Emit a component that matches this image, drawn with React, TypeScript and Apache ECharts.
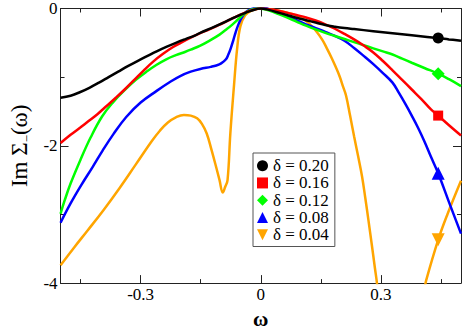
import React, { useEffect, useRef } from "react";
import * as echarts from "echarts";

const seriesNames = ["δ = 0.20", "δ = 0.16", "δ = 0.12", "δ = 0.08", "δ = 0.04"];
const seriesColors = ["#000000", "#ff0000", "#00ff00", "#0000ff", "#ffa500"];
const seriesIcons = ["circle", "rect", "diamond", "triangle", "path://M0,0L10,0L5,10Z"];
const markerSizes = [11, 10, 13, 13, 13];

const d020: number[][] = [
  [-0.5, -1.3], [-0.475, -1.27], [-0.452, -1.22], [-0.428, -1.155], [-0.404, -1.08],
  [-0.38, -1.0], [-0.356, -0.92], [-0.332, -0.84], [-0.308, -0.765], [-0.284, -0.695],
  [-0.26, -0.625], [-0.236, -0.56], [-0.212, -0.5], [-0.188, -0.445], [-0.165, -0.395],
  [-0.15, -0.35], [-0.125, -0.29], [-0.1, -0.225], [-0.075, -0.155], [-0.05, -0.09],
  [-0.025, -0.035], [0, 0], [0.02, -0.02], [0.041, -0.055], [0.065, -0.095],
  [0.089, -0.135], [0.113, -0.17], [0.137, -0.205], [0.161, -0.24], [0.185, -0.265],
  [0.209, -0.285], [0.233, -0.3], [0.281, -0.33], [0.329, -0.36], [0.377, -0.39],
  [0.41, -0.41], [0.443, -0.43], [0.47, -0.45], [0.5, -0.47],
];

const d016: number[][] = [
  [-0.5, -1.96], [-0.475, -1.84], [-0.45, -1.73], [-0.43, -1.64], [-0.408, -1.54],
  [-0.385, -1.42], [-0.362, -1.3], [-0.34, -1.18], [-0.316, -1.04], [-0.292, -0.9],
  [-0.268, -0.77], [-0.244, -0.66], [-0.22, -0.565], [-0.2, -0.5], [-0.175, -0.425],
  [-0.151, -0.36], [-0.127, -0.3], [-0.103, -0.235], [-0.079, -0.17], [-0.059, -0.11],
  [-0.039, -0.06], [-0.02, -0.02], [0, 0], [0.02, -0.01], [0.041, -0.03],
  [0.065, -0.06], [0.089, -0.095], [0.113, -0.13], [0.137, -0.175], [0.161, -0.23],
  [0.185, -0.295], [0.209, -0.37], [0.233, -0.45], [0.257, -0.54], [0.281, -0.64],
  [0.305, -0.765], [0.329, -0.9], [0.353, -1.04], [0.377, -1.18], [0.401, -1.32],
  [0.425, -1.47], [0.443, -1.56], [0.47, -1.7], [0.5, -1.85],
];

const d012: number[][] = [
  [-0.5, -2.99], [-0.49, -2.8], [-0.475, -2.55], [-0.45, -2.2], [-0.425, -1.88],
  [-0.396, -1.57], [-0.368, -1.36], [-0.34, -1.19], [-0.312, -1.04], [-0.284, -0.915],
  [-0.26, -0.82], [-0.236, -0.74], [-0.212, -0.68], [-0.188, -0.63], [-0.175, -0.6],
  [-0.151, -0.54], [-0.127, -0.465], [-0.103, -0.38], [-0.087, -0.31], [-0.071, -0.235],
  [-0.057, -0.16], [-0.043, -0.085], [-0.027, -0.025], [-0.01, 0], [0.01, -0.01],
  [0.041, -0.075], [0.065, -0.13], [0.089, -0.19], [0.113, -0.25], [0.137, -0.305],
  [0.161, -0.355], [0.185, -0.4], [0.209, -0.445], [0.233, -0.49], [0.257, -0.535],
  [0.281, -0.58], [0.305, -0.625], [0.329, -0.67], [0.353, -0.73], [0.377, -0.79],
  [0.41, -0.87], [0.443, -0.95], [0.47, -1.03], [0.5, -1.13],
];

const d008: number[][] = [
  [-0.5, -3.12], [-0.475, -2.84], [-0.448, -2.57], [-0.42, -2.31], [-0.395, -2.07],
  [-0.368, -1.83], [-0.336, -1.58], [-0.3, -1.37], [-0.26, -1.2], [-0.224, -1.06],
  [-0.2, -0.98], [-0.175, -0.92], [-0.151, -0.88], [-0.125, -0.85], [-0.111, -0.83],
  [-0.099, -0.8], [-0.087, -0.74], [-0.081, -0.67], [-0.075, -0.58], [-0.069, -0.47],
  [-0.063, -0.35], [-0.057, -0.25], [-0.051, -0.17], [-0.043, -0.09], [-0.035, -0.04],
  [-0.02, 0], [-0.007, 0.015], [0.01, 0.01], [0.025, -0.02], [0.041, -0.06],
  [0.065, -0.11], [0.089, -0.17], [0.113, -0.23], [0.137, -0.285], [0.161, -0.34],
  [0.185, -0.4], [0.209, -0.47], [0.233, -0.575], [0.257, -0.69], [0.281, -0.81],
  [0.305, -0.94], [0.329, -1.08], [0.345, -1.23], [0.361, -1.39], [0.377, -1.56],
  [0.393, -1.74], [0.409, -1.94], [0.425, -2.16], [0.443, -2.4], [0.47, -2.82],
  [0.5, -3.28],
];

const d004: number[][] = [
  [-0.5, -3.74], [-0.466, -3.48], [-0.432, -3.23], [-0.392, -2.93], [-0.352, -2.61],
  [-0.312, -2.27], [-0.272, -1.93], [-0.252, -1.78], [-0.232, -1.66], [-0.212, -1.585],
  [-0.192, -1.55], [-0.175, -1.56], [-0.159, -1.6], [-0.147, -1.68], [-0.135, -1.82],
  [-0.123, -2.06], [-0.111, -2.32], [-0.103, -2.5], [-0.095, -2.68], [-0.089, -2.6],
  [-0.083, -2.5], [-0.076, -1.82], [-0.067, -1.13], [-0.059, -0.58], [-0.051, -0.26],
  [-0.039, -0.1], [-0.023, -0.03], [0, 0], [0.02, -0.01], [0.041, -0.03],
  [0.065, -0.06], [0.089, -0.1], [0.105, -0.15], [0.121, -0.22], [0.137, -0.32],
  [0.153, -0.45], [0.165, -0.58], [0.177, -0.72], [0.187, -0.85], [0.197, -0.99],
  [0.205, -1.13], [0.213, -1.27], [0.223, -1.56], [0.233, -1.86], [0.243, -2.15],
  [0.253, -2.45], [0.261, -2.76], [0.269, -3.09], [0.277, -3.43], [0.285, -3.78],
  [0.291, -4.05], [0.297, -4.6], [0.403, -4.6], [0.41, -4.06], [0.413, -3.96],
  [0.443, -3.37], [0.466, -3.0], [0.5, -2.51],
];

const seriesData = [d020, d016, d012, d008, d004];
const markerX = 0.443;
const markerY = [-0.43, -1.56, -0.95, -2.4, -3.37];

const xMajorTicks = [-0.3, 0, 0.3];
const xMinorTicks = [-0.45, -0.15, 0.15, 0.45];
const yMajorTicks = [-4, -2, 0];
const yMinorTicks = [-3, -1];

const FONT = "Liberation Serif";
const AXIS_COLOR = "#222";

function xAxisDef(position: string, ticks: number[], len: number, labels: boolean, line: boolean, extra: any = {}) {
  return {
    type: "value",
    min: -0.5,
    max: 0.5,
    position,
    axisLine: { show: line, onZero: false, lineStyle: { color: AXIS_COLOR, width: 1 } },
    axisTick: { show: true, inside: true, length: len, customValues: ticks, lineStyle: { color: AXIS_COLOR, width: 1 } },
    axisLabel: labels
      ? { show: true, customValues: ticks, fontFamily: FONT, fontSize: 17, color: "#000", margin: 3, formatter: (v: number) => (v === 0 ? "0" : String(v)) }
      : { show: false },
    splitLine: { show: false },
    ...extra,
  };
}

function yAxisDef(position: string, ticks: number[], len: number, labels: boolean, line: boolean, extra: any = {}) {
  return {
    type: "value",
    min: -4,
    max: 0,
    position,
    axisLine: { show: line, onZero: false, lineStyle: { color: AXIS_COLOR, width: 1 } },
    axisTick: { show: true, inside: true, length: len, customValues: ticks, lineStyle: { color: AXIS_COLOR, width: 1 } },
    axisLabel: labels
      ? { show: true, customValues: ticks, fontFamily: FONT, fontSize: 17, color: "#000", margin: 3, formatter: (v: number) => (v === 0 ? "0" : String(v)) }
      : { show: false },
    splitLine: { show: false },
    ...extra,
  };
}

export default function App() {
  const ref = useRef<HTMLDivElement>(null);
  useEffect(() => {
    if (!ref.current) return;
    const chart = echarts.init(ref.current, undefined, { renderer: "svg" });
    const option: any = {
      animation: false,
      backgroundColor: "#fff",
      textStyle: { fontFamily: FONT },
      grid: { left: 45, right: 2, top: 8, bottom: 34 },
      xAxis: [
        xAxisDef("bottom", xMajorTicks, 8, true, true, {
          name: "ω",
          nameLocation: "middle",
          nameGap: 21,
          nameTextStyle: { fontFamily: FONT, fontSize: 21, fontWeight: "bold", color: "#000" },
        }),
        xAxisDef("bottom", xMinorTicks, 4, false, false),
        xAxisDef("top", xMajorTicks, 8, false, true),
        xAxisDef("top", xMinorTicks, 4, false, false),
      ],
      yAxis: [
        yAxisDef("left", yMajorTicks, 8, true, true, {
          name: "{a|Im Σ}{b|−}{a|(ω)}",
          nameLocation: "middle",
          nameGap: 20,
          nameRotate: 90,
          nameTextStyle: {
            fontFamily: FONT,
            rich: {
              a: { fontFamily: FONT, fontSize: 23, color: "#000", lineHeight: 26 },
              b: { fontFamily: FONT, fontSize: 13, color: "#000", lineHeight: 10, verticalAlign: "bottom" },
            },
          },
        }),
        yAxisDef("left", yMinorTicks, 4, false, false),
        yAxisDef("right", yMajorTicks, 8, false, true),
        yAxisDef("right", yMinorTicks, 4, false, false),
      ],
      legend: {
        orient: "vertical",
        left: 253,
        top: 153,
        padding: [4, 6, 3, 4],
        itemGap: 0,
        itemWidth: 11,
        itemHeight: 11,
        borderColor: "#555",
        borderWidth: 1,
        backgroundColor: "#fff",
        selectedMode: false,
        textStyle: { fontFamily: FONT, fontSize: 17, color: "#000", lineHeight: 17.3 },
        data: seriesNames.map((n, i) => ({ name: n, icon: seriesIcons[i], itemStyle: { color: seriesColors[i] } })),
      },
      series: seriesNames.map((name, i) => ({
        name,
        type: "line",
        xAxisIndex: 0,
        yAxisIndex: 0,
        data: seriesData[i],
        symbol: "none",
        smooth: 0.4,
        clip: true,
        color: seriesColors[i],
        lineStyle: { color: seriesColors[i], width: 2.5 },
        z: 10 - i,
        markPoint: {
          silent: true,
          symbol: seriesIcons[i],
          symbolSize: markerSizes[i],
          label: { show: false },
          itemStyle: { color: seriesColors[i] },
          data: [{ coord: [markerX, markerY[i]] }],
        },
      })),
    };
    chart.setOption(option);
    return () => chart.dispose();
  }, []);
  return <div ref={ref} style={{ position: "fixed", left: 0, top: 0, width: 463, height: 334 }} />;
}
